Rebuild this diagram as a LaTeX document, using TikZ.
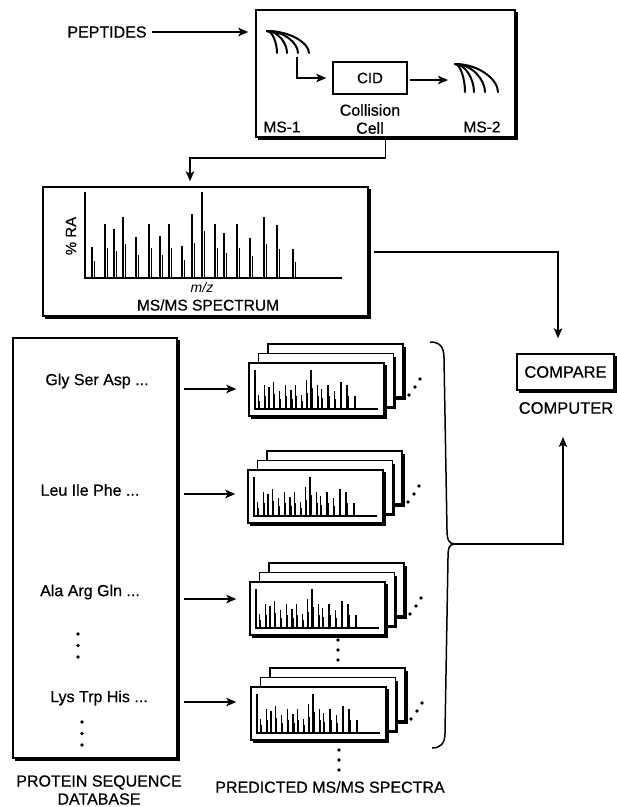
\documentclass[tikz,border=0pt]{standalone}
\usepackage{fontspec}
\setmainfont{Liberation Sans}[BoldFont={Liberation Sans}, BoldFeatures={FakeBold=0.6}]
\usetikzlibrary{arrows.meta,calc}

\tikzset{
  mybox/.style={draw, line width=1.5pt, fill=white, inner sep=0pt},
  shad/.style={line width=2.2pt},
  arr/.style={line width=1.3pt, -{Stealth[length=10pt,width=8.5pt,inset=2.5pt]}},
  lbl/.style={font=\fontsize{16}{18}\selectfont\bfseries, inner sep=0pt, align=center},
  fanline/.style={line width=2pt, line cap=round},
  cardnode/.style={draw, line width=1.5pt, fill=white, inner sep=0pt, minimum width=135pt, minimum height=53pt},
  brace/.style={line width=1.5pt},
}

\newcommand\myshadow[1]{%
  \draw[shad] ([shift={(1.6pt,-3pt)}]#1.north east) -- ([shift={(1.6pt,-1.6pt)}]#1.south east) -- ([shift={(3pt,-1.6pt)}]#1.south west);}

\newcommand\peaklist{7/31,20/54,29/49,38/61,51/41,64/54,75/42,84/54,97/32,107/64,117/86,130/54,139/45,152/54,165/40,179/61,192/53,208/29}

% #1 origin, #2 xscale, #3 yscale, #4 main line width
\newcommand\drawspec[4]{%
  \begin{scope}[shift={#1}, xscale=#2, yscale=#3]
    \draw[line width=1.3pt] (0,-86) -- (0,0) -- (257,0);
    \foreach \px/\ph in \peaklist {
      \draw[line width=#4] (\px,0) -- (\px,-\ph);
      \draw[line width=1pt] (\px+2.2,0) -- (\px+2.2,-0.55*\ph);
    }
  \end{scope}}

% #1 name, #2 x, #3 y of front card top-left
\newcommand\cardstack[3]{%
  \foreach \o in {19,9.5} {
    \draw[line width=1.5pt, fill=white] (#2+\o,#3-\o) rectangle ++(135,53);
    \draw[shad] (#2+\o+136.6,#3-\o+3) -- (#2+\o+136.6,#3-\o+54.6) -- (#2+\o+3,#3-\o+54.6);
  }
  \node[cardnode] (#1) at (#2+67.5,#3+26.5) {};
  \myshadow{#1}
  \drawspec{(#2+6,#3+46)}{0.48}{0.45}{1.4pt}
  \fill (#2+160,#3+32) circle (1.8pt) (#2+166,#3+24) circle (1.8pt) (#2+171,#3+16) circle (1.8pt);
}

% fan of analyzer arcs: #1 start x, #2 start y, #3 end y, #4 list of end x
\newcommand\fan[4]{%
  \foreach \ex in {#4} {
    \draw[fanline] (#1,#2) .. controls ({#1+0.55*(\ex-#1)},#2) and (\ex,{#3-0.45*(#3-#2)}) .. (\ex,#3);
  }}

\begin{document}
\begin{tikzpicture}[x=1pt,y=-1pt]
\fill[white] (0,0) rectangle (617,807);
\useasboundingbox (0,0) rectangle (617,807);

% ---------- top instrument box ----------
\node[mybox, minimum width=259pt, minimum height=127pt] (top) at (385.5,73.5) {};
\myshadow{top}
\node[lbl] (pep) at (107,32) {PEPTIDES};
\draw[arr, shorten >=7pt, shorten <=5pt] (pep.east) -- (top.west |- pep.east);

\fan{267}{31}{53}{277,287,298,309}
\fan{455}{64}{92}{465,474,485,498}
\coordinate (ms1out) at (297,57);
\node[draw, line width=1.5pt, minimum width=74pt, minimum height=32pt, inner sep=0pt, font=\fontsize{15}{18}\selectfont\bfseries] (cid) at (370,78) {CID};
\draw[arr, shorten >=6pt] (ms1out) |- (cid.west);
\coordinate (ms2in) at (448,80);
\draw[arr] (cid.east |- ms2in) ++(2,0) -- (ms2in);
\node[lbl] (coll) at (370,119) {Collision\\Cell};
\node[lbl, font=\fontsize{15.5}{18}\selectfont\bfseries] (ms1) at (282,127) {MS-1};
\node[lbl, font=\fontsize{15.5}{18}\selectfont\bfseries] (ms2) at (482,127) {MS-2};

% ---------- MS/MS spectrum box ----------
\node[mybox, minimum width=325pt, minimum height=129pt] (spec) at (205.5,251.5) {};
\myshadow{spec}
\drawspec{(85,278)}{1}{1}{1.8pt}
\node[lbl, font=\fontsize{15}{18}\selectfont\bfseries, rotate=90] (ra) at (71,236) {\% RA};
\node[lbl, font=\fontsize{14}{16}\selectfont\itshape] (mz) at (202,287) {m/z};
\node[lbl, font=\fontsize{15.5}{18}\selectfont\bfseries] (msms) at (208,305) {MS/MS SPECTRUM};

\coordinate (j1) at (190,158);
\draw[arr, shorten >=5pt] (top.south) |- (j1) -- (j1 |- spec.north);

% ---------- compare ----------
\node[mybox, minimum width=97pt, minimum height=36pt, font=\fontsize{16.5}{18}\selectfont\bfseries] (cmp) at (565.5,372) {COMPARE};
\myshadow{cmp}
\node[lbl, font=\fontsize{16.5}{18}\selectfont\bfseries] (comp) at (566,408) {COMPUTER};
\coordinate (c1) at (558,252);
\draw[arr, shorten <=5pt, shorten >=15pt] (spec.east |- c1) -- (c1) -- (c1 |- cmp.north);

% ---------- database ----------
\node[mybox, minimum width=164pt, minimum height=420pt] (db) at (95,548) {};
\myshadow{db}
\node[lbl] (s1) at (97,381) {Gly Ser Asp ...};
\node[lbl] (s2) at (90,490) {Leu Ile Phe ...};
\node[lbl] (s3) at (90,592) {Ala Arg Gln ...};
\node[lbl] (s4) at (99,698) {Lys Trp His ...};
\fill (78,634) circle (1.8pt) (78,645.5) circle (1.8pt) (78,657) circle (1.8pt);
\fill (82,722) circle (1.8pt) (82,733.5) circle (1.8pt) (82,745) circle (1.8pt);
\node[lbl] (dblbl) at (99,790) {PROTEIN SEQUENCE\\DATABASE};

% ---------- predicted spectra ----------
\cardstack{g1}{249}{363}
\cardstack{g2}{248}{470}
\cardstack{g3}{250}{582}
\cardstack{g4}{251}{687}
\fill (338,640) circle (1.8pt) (338,650) circle (1.8pt) (338,660) circle (1.8pt);
\fill (339,750) circle (1.8pt) (339,760) circle (1.8pt) (339,770) circle (1.8pt);
\node[lbl] (predlbl) at (330,787) {PREDICTED MS/MS SPECTRA};

\draw[arr, shorten <=6pt, shorten >=12pt] (db.east |- {(0,389)}) -- (g1.west |- {(0,389)});
\draw[arr, shorten <=6pt, shorten >=12pt] (db.east |- {(0,494)}) -- (g2.west |- {(0,494)});
\draw[arr, shorten <=6pt, shorten >=13pt] (db.east |- {(0,599)}) -- (g3.west |- {(0,599)});
\draw[arr, shorten <=6pt, shorten >=14pt] (db.east |- {(0,702)}) -- (g4.west |- {(0,702)});

% ---------- brace and link to compare ----------
\coordinate (tip) at (455,544);
\draw[brace] (430,342) .. controls (440,342) and (444,347) .. (444,358) -- (447,530)
  .. controls (447,540) and (449,544) .. (tip)
  .. controls (449,544) and (448,548) .. (448,558) -- (445,733)
  .. controls (445,744) and (440,748) .. (432,748);
\coordinate (cmpin) at (563,437);
\draw[arr] (tip) -| (cmpin);
\end{tikzpicture}
\end{document}
